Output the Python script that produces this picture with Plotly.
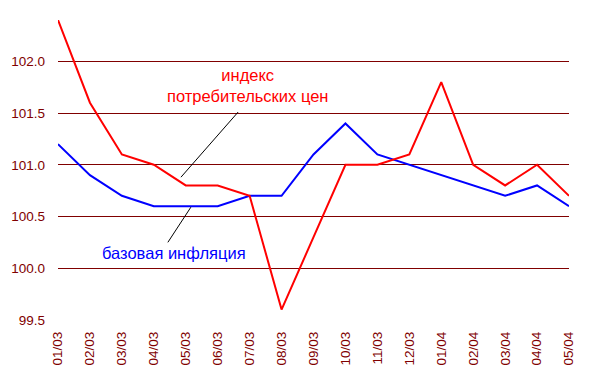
import plotly.graph_objects as go

months = ["01/03", "02/03", "03/03", "04/03", "05/03", "06/03", "07/03", "08/03", "09/03",
          "10/03", "11/03", "12/03", "01/04", "02/04", "03/04", "04/04", "05/04"]
cpi = [102.4, 101.6, 101.1, 101.0, 100.8, 100.8, 100.7, 99.6, 100.3,
       101.0, 101.0, 101.1, 101.8, 101.0, 100.8, 101.0, 100.7]
core = [101.2, 100.9, 100.7, 100.6, 100.6, 100.6, 100.7, 100.7, 101.1,
        101.4, 101.1, 101.0, 100.9, 100.8, 100.7, 100.8, 100.6]

dark = "#800000"
font = "Liberation Sans, Arial, sans-serif"
idx = list(range(len(months)))

fig = go.Figure()
fig.add_trace(go.Scatter(x=idx, y=core, mode="lines", line=dict(color="#0000ff", width=2)))
fig.add_trace(go.Scatter(x=idx, y=cpi, mode="lines", line=dict(color="#ff0000", width=2)))

# leader lines
fig.add_shape(type="line", xref="x", yref="y", x0=5.64, y0=101.51, x1=3.85, y1=100.88,
              line=dict(color="black", width=1))
fig.add_shape(type="line", xref="x", yref="y", x0=4.16, y0=100.59, x1=3.44, y1=100.25,
              line=dict(color="black", width=1))

fig.add_annotation(x=5.92, y=101.77, xref="x", yref="y", showarrow=False,
                   text="индекс<br>потребительских цен", font=dict(color="#ff0000", size=16.5, family=font))
fig.add_annotation(x=3.63, y=100.15, xref="x", yref="y", showarrow=False,
                   text="базовая инфляция", font=dict(color="#0000ff", size=16.5, family=font))

fig.update_layout(
    width=581, height=371,
    margin=dict(l=50, r=20, t=12, b=59),
    paper_bgcolor="white", plot_bgcolor="white",
    showlegend=False,
    font=dict(family=font, size=13, color=dark),
)
fig.update_xaxes(range=[0, 16], tickmode="array", tickvals=idx, ticktext=months,
                 tickangle=-90, showgrid=False, zeroline=False, showline=False,
                 ticklabelstandoff=8, automargin=False,
                 tickfont=dict(color=dark, size=13.5, family=font))
fig.update_yaxes(range=[99.499, 102.4], tick0=99.5, dtick=0.5, tickformat=".1f",
                 showgrid=True, gridcolor=dark, gridwidth=1, zeroline=False, showline=False,
                 ticklabelstandoff=12, automargin=False,
                 tickfont=dict(color=dark, size=13.5, family=font))

fig.write_html("out.html")
